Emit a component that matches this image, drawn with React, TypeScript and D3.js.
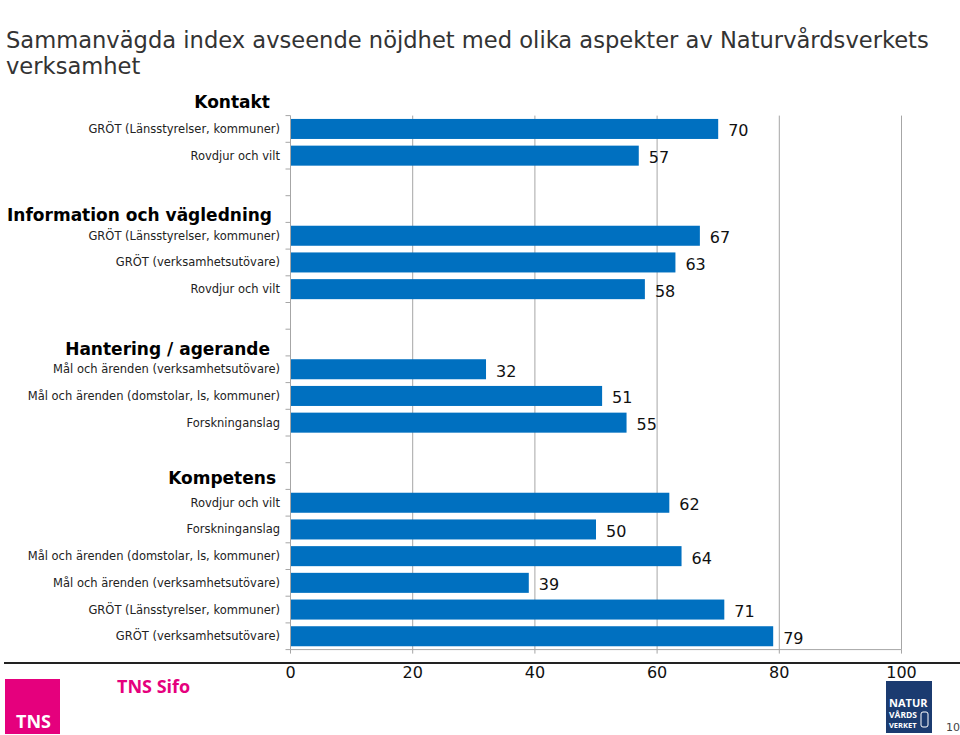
import React from "react";
import * as d3 from "d3";

const titleLines = [
  "Sammanvägda index avseende nöjdhet med olika aspekter av Naturvårdsverkets",
  "verksamhet",
];

const categories = [
  "GRÖT (Länsstyrelser, kommuner)",
  "Rovdjur och vilt",
  "",
  "",
  "GRÖT (Länsstyrelser, kommuner)",
  "GRÖT (verksamhetsutövare)",
  "Rovdjur och vilt",
  "",
  "",
  "Mål och ärenden (verksamhetsutövare)",
  "Mål och ärenden (domstolar, ls, kommuner)",
  "Forskninganslag",
  "",
  "",
  "Rovdjur och vilt",
  "Forskninganslag",
  "Mål och ärenden (domstolar, ls, kommuner)",
  "Mål och ärenden (verksamhetsutövare)",
  "GRÖT (Länsstyrelser, kommuner)",
  "GRÖT (verksamhetsutövare)",
];

const values: (number | null)[] = [
  70, 57, null, null, 67, 63, 58, null, null, 32, 51, 55, null, null, 62, 50, 64, 39, 71, 79,
];

const sectionHeaders = ["Kontakt", "Information och vägledning", "Hantering / agerande", "Kompetens"];
const sectionRows = [-1, 3, 8, 13];

const xTicks = [0, 20, 40, 60, 80, 100];

const W = 960;
const H = 735;
const plotLeft = 290.5;
const plotRight = 901.5;
const plotTop = 115.6;
const plotBottom = 649.6;

const BLUE = "#0070C0";
const GRID = "#A6A6A6";
const FONT = "Verdana, 'DejaVu Sans', sans-serif";
const headerDy = [0, 6, 6, 2];
const headerX = [270, 272, 270, 276];

export default function App() {
  const x = d3.scaleLinear().domain([0, 100]).range([plotLeft, plotRight]);
  const idx = categories.map((_, i) => String(i));
  const y = d3
    .scaleBand<string>()
    .domain(idx)
    .range([plotTop, plotBottom])
    .paddingInner(0.25)
    .paddingOuter(0.125);
  const step = y.step();
  const rowCenter = (r: number) => plotTop + (r + 0.5) * step;

  return (
    <div style={{ position: "fixed", left: 0, top: 0, width: W, height: H }}>
      <svg width={W} height={H} style={{ display: "block", background: "#fff" }} fontFamily={FONT}>
        {/* title */}
        {titleLines.map((t, i) => (
          <text key={i} x={6} y={48 + i * 26} fontSize={22.6} fill="#333333">
            {t}
          </text>
        ))}

        {/* gridlines */}
        {xTicks.slice(1).map((t) => (
          <line key={t} x1={x(t)} x2={x(t)} y1={plotTop} y2={plotBottom} stroke={GRID} strokeWidth={1} />
        ))}

        {/* bars */}
        {values.map((v, i) =>
          v == null ? null : (
            <g key={i}>
              <rect
                x={x(0)}
                y={y(String(i))}
                width={x(v) - x(0)}
                height={y.bandwidth()}
                fill={BLUE}
              />
              <text
                x={x(v) + 10}
                y={(y(String(i)) as number) + y.bandwidth() / 2 + 2}
                dominantBaseline="central"
                fontSize={16}
                fill="#111"
              >
                {v}
              </text>
            </g>
          )
        )}

        {/* category axis */}
        <line x1={plotLeft} x2={plotLeft} y1={plotTop} y2={plotBottom} stroke={GRID} strokeWidth={1} />
        {d3.range(categories.length + 1).map((k) => (
          <line
            key={k}
            x1={plotLeft - 5}
            x2={plotLeft}
            y1={plotTop + k * step}
            y2={plotTop + k * step}
            stroke={GRID}
            strokeWidth={1}
          />
        ))}
        {categories.map((c, i) =>
          c ? (
            <text
              key={i}
              x={280}
              y={rowCenter(i)}
              textAnchor="end"
              dominantBaseline="central"
              fontSize={11.5}
              fill="#222"
            >
              {c}
            </text>
          ) : null
        )}

        {/* section headers */}
        {sectionHeaders.map((h, i) => (
          <text
            key={h}
            x={headerX[i]}
            y={rowCenter(sectionRows[i]) + headerDy[i]}
            textAnchor="end"
            dominantBaseline="central"
            fontSize={17}
            fontWeight="bold"
            fill="#000"
          >
            {h}
          </text>
        ))}

        {/* value axis */}
        <line x1={plotLeft} x2={plotRight} y1={plotBottom} y2={plotBottom} stroke={GRID} strokeWidth={1} />
        {xTicks.map((t) => (
          <line key={t} x1={x(t)} x2={x(t)} y1={plotBottom} y2={plotBottom + 4} stroke={GRID} strokeWidth={1} />
        ))}

        {/* slide divider line */}
        <line x1={4} x2={W} y1={663} y2={663} stroke="#222" strokeWidth={2} />

        {xTicks.map((t) => (
          <text key={t} x={x(t)} y={672} textAnchor="middle" dominantBaseline="central" fontSize={16} fill="#111">
            {t}
          </text>
        ))}

        {/* TNS logo */}
        <rect x={5} y={679} width={55} height={55} fill="#E5007D" />
        <text x={16} y={728} fontSize={18} fontWeight="bold" fill="#fff" fontFamily="'Open Sans', Arial, sans-serif">
          TNS
        </text>
        <text x={117} y={693} fontSize={18} fontWeight="bold" fill="#E5007D" fontFamily="'Open Sans', Arial, sans-serif">
          TNS Sifo
        </text>

        {/* Naturvårdsverket logo */}
        <rect x={886} y={681} width={46} height={52} fill="#1B3B70" />
        <text x={889} y={707} fontSize={11} fill="#fff" fontFamily="'Open Sans', Arial, sans-serif" fontWeight="bold">
          NATUR
        </text>
        <text x={889} y={718} fontSize={8.5} fill="#fff" fontFamily="'Open Sans', Arial, sans-serif" fontWeight="bold">
          VÅRDS
        </text>
        <text x={889} y={728} fontSize={7.5} fill="#fff" fontFamily="'Open Sans', Arial, sans-serif" fontWeight="bold">
          VERKET
        </text>
        <rect x={921} y={712} width={7} height={15} rx={2} fill="none" stroke="#fff" strokeWidth={1} />

        <text x={946} y={731} fontSize={11} fill="#444">
          10
        </text>
      </svg>
    </div>
  );
}
